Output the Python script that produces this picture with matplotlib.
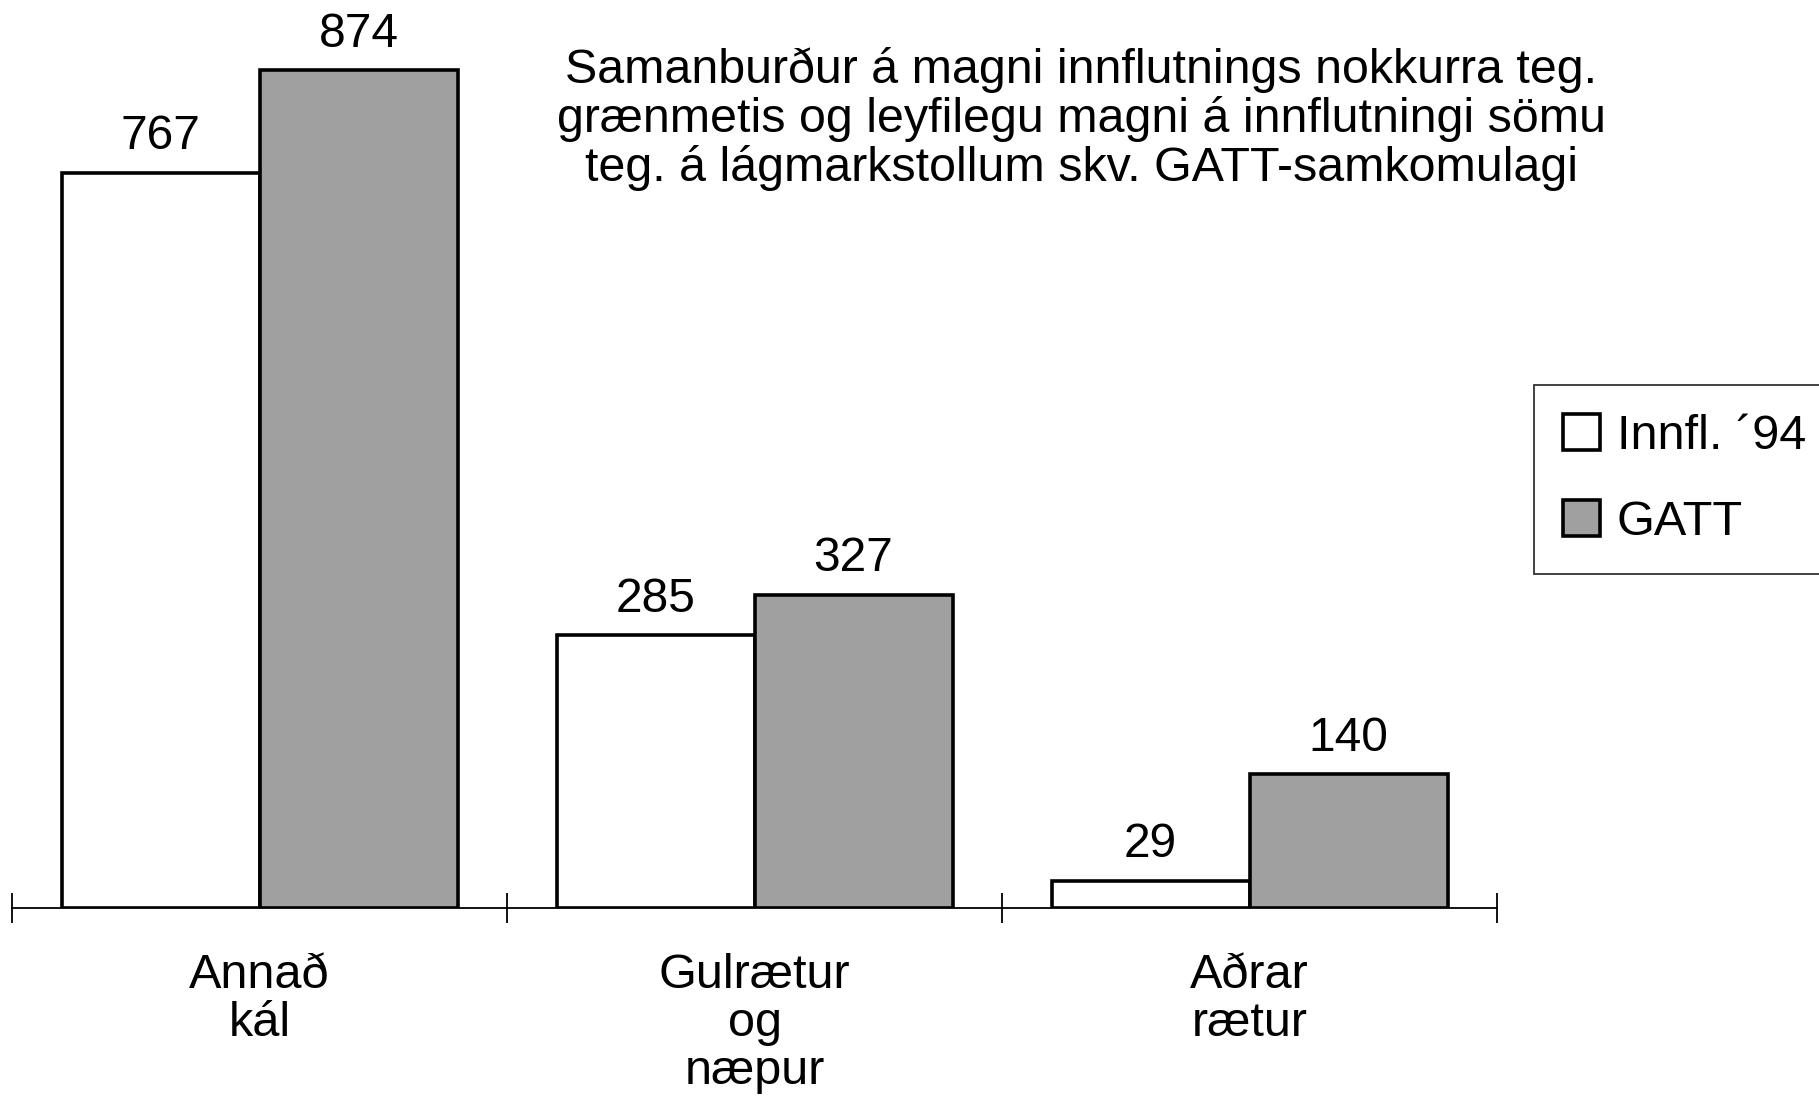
import matplotlib.pyplot as plt
import numpy as np

categories = ['Annað\nkál', 'Gulrætur\nog\nnæpur', 'Aðrar\nrætur']
innfl_94 = [767, 285, 29]
gatt = [874, 327, 140]
series_names = ['Innfl. \u00b494', 'GATT']
title = ('Samanburður á magni innflutnings nokkurra teg.\n'
         'grænmetis og leyfilegu magni á innflutningi sömu\n'
         'teg. á lágmarkstollum skv. GATT-samkomulagi')

plt.rcParams['font.family'] = ['Liberation Sans', 'DejaVu Sans']
plt.rcParams['font.size'] = 35

fig = plt.figure(figsize=(18.19, 10.99), dpi=100)
ax = fig.add_axes([0.0066, 0.1735, 0.8164, 0.7855])

x = np.arange(len(categories))
w = 0.4
b1 = ax.bar(x - w / 2, innfl_94, w, color='white', edgecolor='black',
            linewidth=2.6, label=series_names[0], zorder=3)
b2 = ax.bar(x + w / 2, gatt, w, color='#a0a0a0', edgecolor='black',
            linewidth=2.6, label=series_names[1], zorder=3)

for bars, vals in [(b1, innfl_94), (b2, gatt)]:
    for r, v in zip(bars, vals):
        ax.text(r.get_x() + r.get_width() / 2, v + 14, str(v),
                ha='center', va='bottom', fontsize=34.5)

ax.set_xlim(-0.5, 2.5)
ax.set_ylim(0, 900)
ax.set_xticks([-0.5, 0.5, 1.5, 2.5])
ax.set_xticklabels([])
ax.tick_params(axis='x', direction='inout', length=22, width=1.3)
ax.set_yticks([])
for s in ['top', 'right', 'left']:
    ax.spines[s].set_visible(False)
ax.spines['bottom'].set_linewidth(1.3)

for xi, lab in zip(x, categories):
    ax.text(xi, -47, lab, ha='center', va='top', fontsize=35, linespacing=1.08)

fig.text(0.5945, 0.892, title, ha='center', va='center', fontsize=34.8,
         linespacing=1.08)

leg = fig.legend(handles=[b1, b2], labels=series_names, loc='upper left',
                 bbox_to_anchor=(0.8435, 0.65), frameon=True, fancybox=False,
                 edgecolor='black', fontsize=35, handlelength=0.75,
                 handleheight=0.75, handletextpad=0.35, borderpad=0.6,
                 labelspacing=0.85, borderaxespad=0)
leg.get_frame().set_linewidth(1.3)

fig.savefig('out.png', dpi=100)
